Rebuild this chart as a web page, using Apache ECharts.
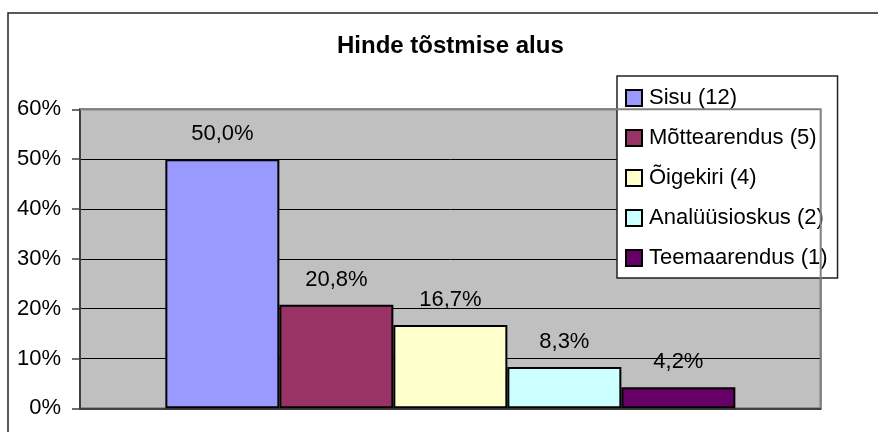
<!DOCTYPE html>
<html>
<head>
<meta charset="utf-8">
<script src="https://cdn.jsdelivr.net/npm/echarts@6/dist/echarts.min.js"></script>
<style>
html,body{margin:0;padding:0;background:#fff;}
#chart{width:878px;height:432px;}
</style>
</head>
<body>
<div id="chart"></div>
<script>
const titleText = 'Hinde tõstmise alus';
const seriesNames = ['Sisu (12)', 'Mõttearendus (5)', 'Õigekiri (4)', 'Analüüsioskus (2)', 'Teemaarendus (1)'];
const seriesValues = [50.0, 20.8, 16.7, 8.3, 4.2];
const seriesColors = ['#9999FF', '#993366', '#FFFFCC', '#CCFFFF', '#660066'];
const yTicks = [0, 10, 20, 30, 40, 50, 60];

const FONT = 'Liberation Sans, Arial, sans-serif';
const chart = echarts.init(document.getElementById('chart'));

const series = seriesNames.map((name, i) => ({
  name: name,
  type: 'bar',
  data: [seriesValues[i]],
  barWidth: 114,
  barGap: '0%',
  itemStyle: { color: seriesColors[i], borderColor: '#000', borderWidth: 2 },
  label: {
    show: true,
    position: 'top',
    distance: 14,
    color: '#000',
    fontFamily: FONT,
    fontSize: 22,
    formatter: p => p.value.toFixed(1).replace('.', ',') + '%'
  }
}));

chart.setOption({
  animation: false,
  backgroundColor: '#fff',
  title: {
    text: titleText,
    left: 337,
    top: 34,
    padding: 0,
    textStyle: { fontFamily: FONT, fontSize: 24, fontWeight: 'bold', color: '#000' }
  },
  legend: {
    orient: 'vertical',
    left: 617,
    top: 76,
    padding: [11, 10, 9, 8],
    itemWidth: 16,
    itemHeight: 16,
    itemGap: 18,
    icon: 'rect',
    backgroundColor: '#fff',
    borderColor: '#222',
    borderWidth: 1.5,
    textStyle: { fontFamily: FONT, fontSize: 22, color: '#000', lineHeight: 22, padding: [0, 0, 0, 2] },
    data: seriesNames
  },
  grid: {
    left: 80, top: 109.3, right: 57.3, bottom: 23.7,
    show: true,
    backgroundColor: '#C0C0C0',
    borderColor: '#808080',
    borderWidth: 2,
    containLabel: false
  },
  xAxis: {
    type: 'category',
    data: [''],
    axisLine: { show: true, lineStyle: { color: '#404040', width: 2 } },
    axisTick: { show: false },
    axisLabel: { show: false },
    splitLine: { show: false }
  },
  yAxis: {
    type: 'value',
    min: yTicks[0],
    max: yTicks[yTicks.length - 1],
    interval: 10,
    axisLine: { show: true, lineStyle: { color: '#404040', width: 2 } },
    axisTick: { show: true, length: 8, lineStyle: { color: '#404040', width: 1.5 } },
    axisLabel: {
      margin: 19,
      color: '#000',
      fontFamily: FONT,
      fontSize: 22,
      formatter: '{value}%'
    },
    splitLine: { show: true, lineStyle: { color: '#000', width: 1 } }
  },
  graphic: [
    {
      type: 'rect',
      shape: { x: 8, y: 13, width: 900, height: 450 },
      style: { fill: 'none', stroke: '#222', lineWidth: 1.5 },
      z: 100, silent: true
    },
    {
      type: 'polyline',
      shape: { points: [[80, 109.3], [820.7, 109.3], [820.7, 408.3]] },
      style: { fill: 'none', stroke: '#808080', lineWidth: 2 },
      z: 5, silent: true
    }
  ],
  series: series
});
</script>
</body>
</html>
